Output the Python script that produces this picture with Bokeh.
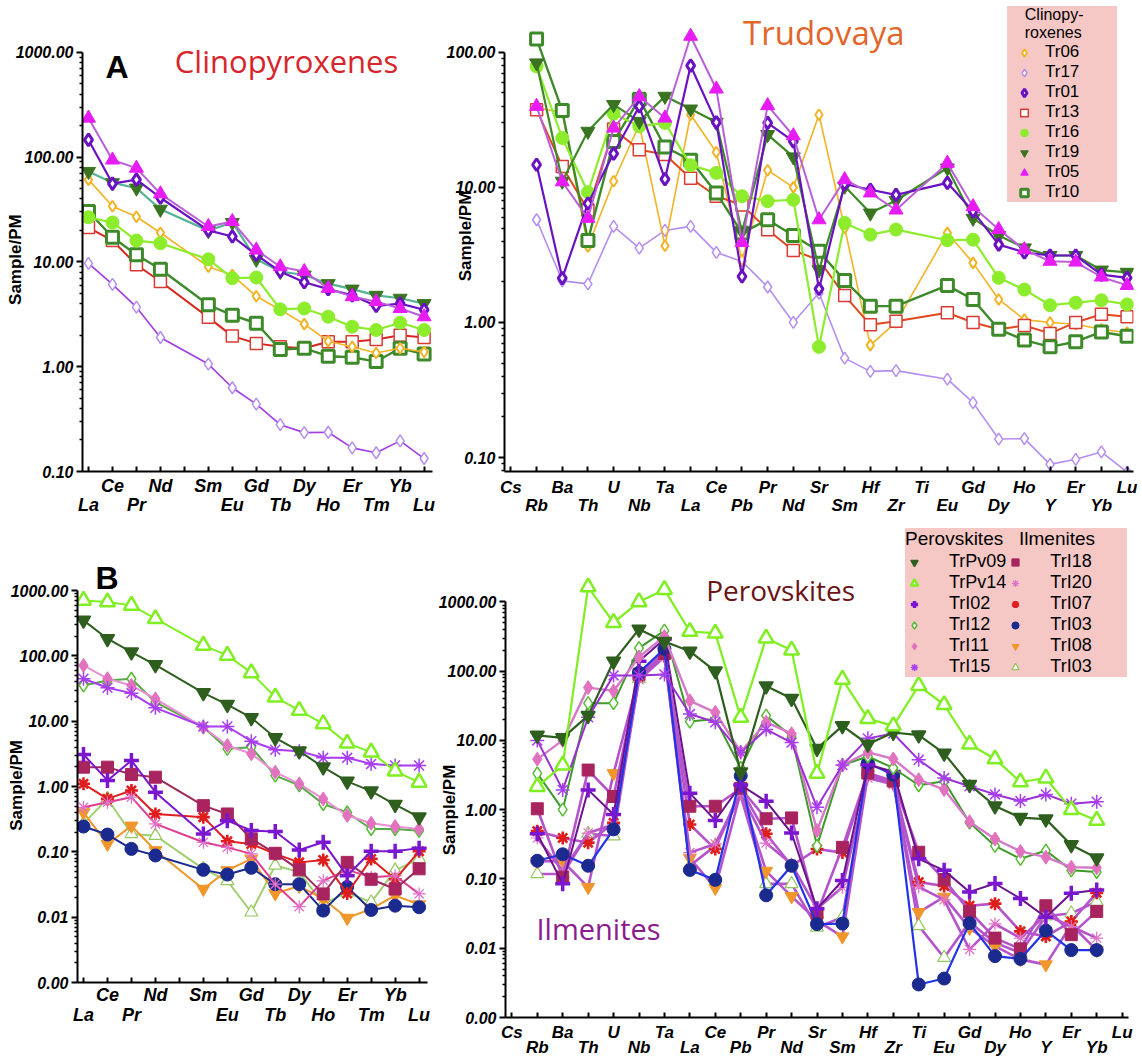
from bokeh.plotting import figure
from bokeh.models import FixedTicker, LinearAxis, CustomJSTickFormatter, Label, Legend, LegendItem
from bokeh.layouts import column, row
from bokeh.embed import file_html
from bokeh.resources import INLINE

# ---------------- element axes ----------------
REE_AXIS = ["La", "Ce", "Pr", "Nd", "Pm", "Sm", "Eu", "Gd", "Tb", "Dy", "Ho", "Er", "Tm", "Yb", "Lu"]
REE = ["La", "Ce", "Pr", "Nd", "Sm", "Eu", "Gd", "Tb", "Dy", "Ho", "Er", "Tm", "Yb", "Lu"]
SPIDER = ["Cs", "Rb", "Ba", "Th", "U", "Nb", "Ta", "La", "Ce", "Pb", "Pr", "Nd", "Sr", "Sm",
          "Hf", "Zr", "Ti", "Eu", "Gd", "Dy", "Ho", "Y", "Er", "Yb", "Lu"]
YTICKS_A = [0.1, 1, 10, 100, 1000]
YTICKS_B = [0.1, 1, 10, 100]
YTICKS_C = [0.001, 0.01, 0.1, 1, 10, 100, 1000]

# ---------------- panel A: clinopyroxene REE ----------------
tr06_ree = [61, 34, 27, 19, 9.0, 7.5, 4.7, 3.5, 2.55, 1.75, 1.55, 1.35, 1.5, 1.38]
tr17_ree = [9.7, 6.1, 3.7, 1.9, 1.06, 0.63, 0.44, 0.28, 0.235, 0.237, 0.168, 0.151, 0.196, 0.133]
tr01_ree = [146, 56, 61, 41, 20, 17.5, 11.7, 8.1, 6.4, 5.5, 4.8, 3.8, 4.0, 3.5]
tr13_ree = [21.3, 16, 9.4, 6.5, 2.96, 1.96, 1.67, 1.55, 1.5, 1.73, 1.73, 1.82, 2.0, 1.9]
tr16_ree = [26.7, 23.8, 16, 15.1, 10.6, 7.0, 7.1, 3.53, 3.6, 3.0, 2.41, 2.24, 2.63, 2.24]
tr19_ree = [73, 57, 50.6, 31.8, 19.9, 23.8, 10.6, 8.1, 7.5, 6.2, 5.5, 4.8, 4.5, 4.0]
tr05_ree = [236, 94, 78.5, 44.7, 21.8, 24.3, 13.0, 9.0, 8.1, 5.6, 4.67, 4.18, 3.6, 3.0]
tr10_ree = [30.3, 17.2, 11.7, 8.5, 3.9, 3.1, 2.6, 1.46, 1.5, 1.26, 1.23, 1.12, 1.5, 1.32]

# ---------------- panel A': clinopyroxene spider (Trudovaya) ----------------
tr06_sp = [None, 38.7, 36, 3.66, 11.1, 29.1, 3.7, 34.5, 18.2, 2.9, 13.4, 10.0, 34.5, 5.0, 0.68, 1.0, None, 4.6, 2.76, 1.48, 1.05, 1.0, 0.97, 0.89, 0.84]
tr17_sp = [None, 5.76, 2.03, 1.93, 5.14, 3.55, 4.8, 5.14, 3.3, 2.83, 1.83, 1.0, 1.65, 0.544, 0.434, 0.44, None, 0.38, 0.255, 0.137, 0.138, 0.089, 0.097, 0.11, 0.078]
tr01_sp = [None, 14.7, 2.13, 7.6, 17.8, 39.8, 11.5, 79.6, 30.3, 2.19, 30, 21.9, 1.77, 10.6, 9.6, 8.8, None, 10.8, 6.65, 3.77, 3.3, 3.13, 3.13, 2.26, 2.14]
tr13_sp = [None, 37.6, 14.3, 6.8, 27, 19, 17.5, 11.7, 8.6, 7.4, 4.86, 3.41, 2.9, 1.58, 0.96, 1.02, None, 1.18, 1.0, 0.89, 0.95, 0.83, 1.0, 1.15, 1.1]
tr16_sp = [None, 78.7, 23.2, 9.2, 35.1, 28.3, 30, 14.6, 12.8, 8.6, 7.9, 8.1, 0.66, 5.45, 4.47, 4.87, None, 4.06, 4.1, 2.14, 1.75, 1.34, 1.4, 1.46, 1.36]
tr19_sp = [None, 83.4, 11.1, 26, 41, 30.8, 47.2, 38, 30.3, 4.7, 24.6, 16.8, 2.45, 10.2, 6.45, 8.0, None, 13.9, 5.9, 4.4, 3.56, 3.13, 3.13, 2.44, 2.35]
tr05_sp = [None, 39.8, 11, 5.9, 27.5, 47, 32.6, 131.5, 53.5, 3.9, 40.3, 24.1, 5.76, 11.4, 9.1, 6.8, None, 15.1, 7.2, 4.87, 3.46, 2.84, 2.8, 2.17, 1.88]
tr10_sp = [None, 125.6, 37, 4.05, 21.9, 45, 19.9, 15.9, 9.1, 4.6, 5.76, 4.4, 3.36, 2.04, 1.32, 1.32, None, 1.88, 1.48, 0.89, 0.74, 0.66, 0.72, 0.85, 0.79]

# ---------------- panel B: perovskite / ilmenite REE ----------------
pv09_ree = [349, 183, 114, 73, 27.2, 18, 11.3, 5.57, 3.48, 1.98, 1.2, 0.85, 0.53, 0.34]
pv14_ree = [707, 667, 593, 371, 145, 102, 55, 23.4, 14.6, 9.1, 4.6, 3.36, 1.72, 1.16]
i02_ree = [3.1, 1.24, 2.5, 0.82, 0.188, 0.30, 0.212, 0.205, 0.107, 0.14, 0.043, 0.102, 0.102, 0.114]
i12_ree = [35.3, 42, 44.7, 19.6, 8.1, 3.78, 4.0, 1.47, 1.04, 0.54, 0.40, 0.224, 0.224, 0.21]
i11_ree = [71.5, 44.7, 35.3, 22, 8.1, 4.25, 3.17, 1.66, 1.1, 0.647, 0.36, 0.274, 0.244, 0.224]
i15_ree = [44.7, 32.5, 26.9, 16, 8.3, 8.3, 4.95, 3.65, 3.48, 2.75, 2.75, 2.22, 2.1, 2.1]
i18_ree = [1.98, 1.98, 1.53, 1.39, 0.51, 0.38, 0.158, 0.095, 0.053, 0.0227, 0.069, 0.038, 0.027, 0.055]
i20_ree = [0.48, 0.575, 0.687, 0.268, 0.14, 0.117, 0.093, 0.032, 0.0145, 0.036, 0.053, 0.041, 0.043, 0.0227]
i07_ree = [1.1, 0.647, 0.87, 0.38, 0.34, 0.145, 0.132, 0.093, 0.069, 0.075, 0.023, 0.078, 0.038, 0.102]
i03_ree = [0.244, 0.184, 0.111, 0.088, 0.053, 0.045, 0.057, 0.032, 0.032, 0.0126, 0.029, 0.0129, 0.015, 0.0142]
i08_ree = [0.40, 0.132, 0.25, 0.105, 0.027, 0.052, 0.078, 0.023, 0.030, 0.019, 0.0097, 0.0134, 0.0214, 0.0156]
i03b_ree = [0.27, 0.65, 0.188, 0.177, 0.055, 0.036, 0.0119, 0.062, 0.049, 0.016, 0.024, 0.0169, 0.052, 0.078]

# ---------------- panel B': perovskite / ilmenite spider ----------------
pv09_sp = [None, 11.8, 10.9, 22.8, 139, 403, 268, 193, 100, 3.5, 61, 40.3, 7.6, 16.2, 8.8, 13, 11.9, 6.5, 2.3, 1.13, 0.77, 0.73, 0.31, 0.2, None]
pv14_sp = [None, 2.15, 4.4, 1637, 501, 1000, 1500, 373, 353, 21.5, 299, 200, 3.34, 76, 20.6, 16.2, 61.7, 32.7, 8.8, 5.4, 2.51, 2.86, 1.0, 0.70, None]
i02_sp = [None, 0.45, 0.085, 1.93, 0.85, 139, 290, 1.73, 0.70, 2.27, 1.32, 0.46, 0.037, 0.095, 4.44, 3.56, 0.195, 0.133, 0.065, 0.086, 0.052, 0.028, 0.062, 0.069, None]
i12_sp = [None, 3.34, 1.0, 34.5, 34.5, 215, 385, 18.7, 20.4, 4.0, 22.8, 11.5, 0.30, 4.4, 5.85, 4.0, 2.25, 2.57, 0.65, 0.30, 0.195, 0.257, 0.133, 0.126, None]
i11_sp = [None, 5.36, 10, 57.8, 51.8, 160, 317, 37.3, 25.4, 6.8, 18.3, 12.5, 0.50, 4.4, 6.74, 5.4, 2.71, 1.95, 0.67, 0.377, 0.25, 0.206, 0.148, 0.145, None]
i15_sp = [None, 10, 1.93, 21.5, 86.7, 86.7, 89.6, 24, 18.3, 6.67, 14.4, 9.3, 1.08, 4.4, 10.7, 12.6, 5.24, 2.86, 2.18, 1.66, 1.33, 1.66, 1.22, 1.3, None]
i18_sp = [None, 1.03, 0.106, 3.73, 1.55, 90, 180, 1.12, 1.12, 2.04, 0.74, 0.76, 0.032, 0.286, 3.38, 2.6, 0.243, 0.098, 0.034, 0.014, 0.0098, 0.041, 0.0157, 0.034, None]
i20_sp = [None, 0.39, 0.13, 0.46, 0.61, 75, 160, 0.24, 0.32, 1.7, 0.33, 0.164, 0.037, 0.076, 2.86, 2.3, 0.077, 0.05, 0.0096, 0.0225, 0.014, 0.030, 0.0206, 0.014, None]
i07_sp = [None, 0.49, 0.39, 0.334, 0.645, 83, 165, 0.61, 0.27, 2.0, 0.45, 0.155, 0.27, 0.24, 3.2, 2.43, 0.09, 0.079, 0.041, 0.044, 0.0175, 0.0148, 0.0243, 0.063, None]
i03_sp = [None, 0.183, 0.227, 0.155, 0.52, 95, 210, 0.135, 0.097, 3.09, 0.058, 0.155, 0.0223, 0.0227, 4.7, 3.2, 0.003, 0.00365, 0.023, 0.0077, 0.007, 0.018, 0.0094, 0.0094, None]
i08_sp = [None, 0.18, 0.18, 0.076, 3.34, 85, 190, 0.2, 0.074, 1.8, 0.13, 0.056, 0.025, 0.0147, 3.2, 2.4, 0.033, 0.055, 0.0195, 0.0107, 0.0069, 0.0058, 0.0218, 0.0094, None]
i03b_sp = [None, 0.118, 0.118, 0.45, 0.416, 78, 175, 0.155, 0.3, 1.6, 0.085, 0.085, 0.02, 0.028, 3.3, 2.5, 0.021, 0.0073, 0.024, 0.012, 0.0086, 0.029, 0.032, 0.047, None]

CPX_NAMES = ["Tr06", "Tr17", "Tr01", "Tr13", "Tr16", "Tr19", "Tr05", "Tr10"]
PI_NAMES = ["TrPv09", "TrPv14", "TrI02", "TrI12", "TrI11", "TrI15",
            "TrI18", "TrI20", "TrI07", "TrI03", "TrI08", "TrI03"]

AXF = "Liberation Sans"
NBSP = "\u00a0"


def base_fig(width, height, bl, br, bt, bb, x_end, y_lo, y_hi, ticks, names, upper_even,
             xfs, s1, s2, y_standoff, label_pad):
    p = figure(width=width, height=height, x_range=(-0.25, x_end), y_range=(y_lo, y_hi),
               y_axis_type="log", output_backend="svg", toolbar_location=None,
               min_border_left=bl, min_border_right=br, min_border_top=bt, min_border_bottom=bb)
    if "frame_align" in p.properties():
        p.frame_align = False
    p.outline_line_color = None
    p.xgrid.visible = False
    p.ygrid.visible = False
    # y axis
    yax = p.yaxis[0]
    minors = []
    for t in ticks[:-1]:
        minors += [m * t for m in range(2, 10)]
    minors += [m * ticks[0] / 10 for m in range(2, 10)]
    yax.ticker = FixedTicker(ticks=ticks, minor_ticks=minors)
    yax.bounds = (y_lo, ticks[-1])
    yax.formatter = CustomJSTickFormatter(code="return tick.toFixed(2);")
    yax.axis_label = "Sample/PM" + NBSP * label_pad
    yax.axis_label_text_font = AXF
    yax.axis_label_text_font_style = "bold"
    yax.axis_label_text_font_size = "17px"
    yax.axis_label_text_color = "black"
    yax.axis_label_standoff = y_standoff
    yax.major_label_text_font = AXF
    yax.major_label_text_font_style = "bold italic"
    yax.major_label_text_font_size = "16px"
    yax.major_label_text_color = "black"
    yax.major_label_standoff = 3
    yax.axis_line_width = 2
    yax.major_tick_line_width = 2
    yax.minor_tick_line_width = 1.5
    yax.major_tick_out = 6
    yax.major_tick_in = 0
    yax.minor_tick_out = 3
    yax.minor_tick_in = 0
    # x axes (two staggered rows of labels)
    n = len(names)
    par = 0 if upper_even else 1
    up = [nm if i % 2 == par else "" for i, nm in enumerate(names)]
    low = [nm if (i % 2 != par and nm != "Pm") else "" for i, nm in enumerate(names)]
    xax = p.xaxis[0]
    xax.ticker = FixedTicker(ticks=list(range(n)))
    xax.formatter = CustomJSTickFormatter(args=dict(labels=up),
                                          code="const s = labels[Math.round(tick)]; return s ? s : '';")
    xax.axis_line_width = 2
    xax.major_tick_line_width = 2
    xax.major_tick_in = 5
    xax.major_tick_out = 0
    xax.minor_tick_line_color = None
    xax.major_label_standoff = s1
    xax.major_label_text_font = AXF
    xax.major_label_text_font_style = "bold italic"
    xax.major_label_text_font_size = xfs
    xax.major_label_text_color = "black"
    ax2 = LinearAxis(ticker=FixedTicker(ticks=[i for i in range(n) if i % 2 != par]),
                     formatter=CustomJSTickFormatter(args=dict(labels=low),
                                                     code="const s = labels[Math.round(tick)]; return s ? s : '';"),
                     axis_line_color=None, major_tick_line_color=None, minor_tick_line_color=None,
                     major_tick_in=0, major_tick_out=0, minor_tick_in=0, minor_tick_out=0,
                     major_label_standoff=s2, major_label_text_font=AXF,
                     major_label_text_font_style="bold italic", major_label_text_font_size=xfs,
                     major_label_text_color="black")
    p.add_layout(ax2, "below")
    return p


def draw(p, axis_names, keys, vals, lc, marker, mc, fill, size, lw=2.0, mlw=1.5):
    xs, ys = [], []
    for k, v in zip(keys, vals):
        if v is not None:
            xs.append(axis_names.index(k))
            ys.append(v)
    p.line(xs, ys, line_color=lc, line_width=lw)
    return p.scatter(xs, ys, marker=marker, size=size, line_color=mc, fill_color=fill, line_width=mlw)


def text(p, x, y, s, size, color, font="Open Sans", style="normal", align="left"):
    p.add_layout(Label(x=x, y=y, text=s, text_font=font, text_font_size=size, text_color=color,
                       text_font_style=style, text_align=align, text_baseline="alphabetic"))


# ---------- styles ----------
CPX_STYLE = {
    "Tr06": dict(lc="#f2b325", marker="diamond", mc="#f2b325", fill="white", size=11, lw=1.6, mlw=2),
    "Tr17": dict(lc="#b48ef0", marker="diamond", mc="#b48ef0", fill="white", size=12, lw=1.6, mlw=1.5),
    "Tr01": dict(lc="#6a12c2", marker="diamond", mc="#6a12c2", fill="white", size=12, lw=2.2, mlw=3),
    "Tr13": dict(lc="#e0481f", marker="square", mc="#d83a34", fill="white", size=12, lw=2.0, mlw=1.5),
    "Tr16": dict(lc="#8ded2d", marker="circle", mc="#8ded2d", fill="#8ded2d", size=13, lw=2.2, mlw=1),
    "Tr19": dict(lc="#3f8a28", marker="inverted_triangle", mc="#3a7420", fill="#3a7420", size=14, lw=2.2, mlw=1),
    "Tr05": dict(lc="#b95fd8", marker="triangle", mc="#e71cf4", fill="#e71cf4", size=14, lw=2.0, mlw=1),
    "Tr10": dict(lc="#3e8a2a", marker="square", mc="#3e8a2a", fill="white", size=12, lw=2.4, mlw=3),
}
A_LINE = {"Tr17": "#a03de6", "Tr19": "#57b395", "Tr13": "#d8261e"}

PI_STYLE = [
    dict(lc="#2f5f1f", marker="inverted_triangle", mc="#2f5f1f", fill="#2f5f1f", size=14, mlw=1.5),
    dict(lc="#80ef22", marker="triangle", mc="#80ef22", fill="white", size=15, mlw=2.5),
    dict(lc="#7b16d0", marker="cross", mc="#7b16d0", fill="#7b16d0", size=15, mlw=3.5),
    dict(lc="#58a84a", marker="diamond", mc="#55bb33", fill="white", size=13, mlw=1.5),
    dict(lc="#e890d2", marker="diamond", mc="#e272bf", fill="#e272bf", size=14, mlw=1),
    dict(lc="#a83ef0", marker="asterisk", mc="#a83ef0", fill=None, size=14, mlw=1.5),
    dict(lc="#9c2a5c", marker="square", mc="#a8245e", fill="#a8245e", size=12, mlw=1),
    dict(lc="#e23c90", marker="asterisk", mc="#e070c8", fill=None, size=13, mlw=1.2),
    dict(lc="#e02020", marker="asterisk", mc="#e01d1d", fill=None, size=13, mlw=2.6),
    dict(lc="#1b2a8f", marker="circle", mc="#1b2a8f", fill="#1b2a8f", size=13, mlw=1),
    dict(lc="#f0962a", marker="inverted_triangle", mc="#f0962a", fill="#f0962a", size=13, mlw=1),
    dict(lc="#a0d070", marker="triangle", mc="#96c860", fill="white", size=13, mlw=1.2),
]
D_LINE = ["#2f5f1f", "#80ef22", "#6c128c", "#3f9a2a", "#d47ac8", "#9b30d6",
          "#b553cc", "#b553cc", "#b553cc", "#2233e6", "#b553cc", "#b553cc"]
D_LW = [2.2, 2.2, 2.0, 2.0, 2.4, 2.0, 2.6, 2.6, 2.6, 2.2, 2.6, 2.6]

# ================= figure A (cpx REE) =================
pA = base_fig(444, 517, 82, 12, 0, 45, 14.35, 0.1, 3127, YTICKS_A, REE_AXIS, False, "18px", 4, -4, -12, 10)
cpx_ree = dict(zip(CPX_NAMES, [tr06_ree, tr17_ree, tr01_ree, tr13_ree, tr16_ree, tr19_ree, tr05_ree, tr10_ree]))
for nm in ["Tr17", "Tr13", "Tr10", "Tr06", "Tr16", "Tr19", "Tr01", "Tr05"]:
    st = dict(CPX_STYLE[nm])
    if nm in A_LINE:
        st["lc"] = A_LINE[nm]
    draw(pA, REE_AXIS, REE, cpx_ree[nm], **st)
text(pA, 0.71, 720, "A", "32px", "black", font=AXF, style="bold")
text(pA, 3.6, 821, "Clinopyroxenes", "31px", "#d6262b")

# ================= figure B (cpx spider) =================
pB = base_fig(698, 517, 60, 9, 0, 45, 24.25, 0.0788, 241.8, YTICKS_B, SPIDER, True, "17px", 6, -4, -31, 0)
cpx_sp = dict(zip(CPX_NAMES, [tr06_sp, tr17_sp, tr01_sp, tr13_sp, tr16_sp, tr19_sp, tr05_sp, tr10_sp]))
rB = {}
for nm in ["Tr17", "Tr06", "Tr13", "Tr10", "Tr16", "Tr19", "Tr01", "Tr05"]:
    rB[nm] = draw(pB, SPIDER, SPIDER, cpx_sp[nm], **CPX_STYLE[nm])
text(pB, 9.04, 139, "Trudovaya", "33px", "#e2662a")
legB = Legend(items=[LegendItem(label=nm, renderers=[rB[nm]]) for nm in CPX_NAMES],
              location=(503, 269), background_fill_color="#f5c8c6", background_fill_alpha=1.0,
              border_line_color=None, label_text_font=AXF, label_text_font_size="17px",
              label_text_color="black",
              label_height=19, glyph_height=19, glyph_width=34, label_standoff=4, label_width=72,
              spacing=0, padding=4, margin=0,
              title=NBSP * 4 + "Clinopy-\n" + NBSP * 4 + "roxenes", title_text_font=AXF,
              title_text_color="black",
              title_text_font_style="normal", title_text_font_size="16px", title_standoff=0)
pB.add_layout(legB)

# ================= figure C (pv/ilm REE) =================
pC = base_fig(436, 542, 77, 9, 0, 77, 14.35, 0.001, 13130, YTICKS_C, REE_AXIS, False, "18px", 2, -3, -18, 15)
pi_ree = [pv09_ree, pv14_ree, i02_ree, i12_ree, i11_ree, i15_ree, i18_ree, i20_ree, i07_ree, i03_ree, i08_ree, i03b_ree]
for k in [11, 10, 9, 8, 7, 6, 2, 3, 4, 5, 0, 1]:
    draw(pC, REE_AXIS, REE, pi_ree[k], **PI_STYLE[k])
text(pC, 0.5, 1581, "B", "32px", "black", font=AXF, style="bold")

# ================= figure D (pv/ilm spider) =================
pD = base_fig(706, 542, 64, 14, 0, 38, 24.25, 0.001, 16500, YTICKS_C, SPIDER, True, "17px", 5, -7, -23, 18)
pi_sp = [pv09_sp, pv14_sp, i02_sp, i12_sp, i11_sp, i15_sp, i18_sp, i20_sp, i07_sp, i03_sp, i08_sp, i03b_sp]
rD = {}
for k in [11, 10, 8, 7, 6, 9, 2, 3, 4, 5, 0, 1]:
    st = dict(PI_STYLE[k])
    st["lc"] = D_LINE[k]
    st["lw"] = D_LW[k]
    rD[k] = draw(pD, SPIDER, SPIDER, pi_sp[k], **st)
text(pD, 7.64, 1486, "Perovskites", "28px", "#6a1416")
text(pD, 0.97, 0.0193, "Ilmenites", "29px", "#8b1c8d")
legD = Legend(items=[LegendItem(label=PI_NAMES[k], renderers=[rD[k]]) for k in range(12)],
              location=(400, 340), ncols=2, background_fill_color="#f5c8c6", background_fill_alpha=1.0,
              border_line_color=None, label_text_font=AXF, label_text_font_size="18px",
              label_text_color="black",
              label_height=20, glyph_height=20, glyph_width=18, label_standoff=26, spacing=0,
              padding=4, margin=0, title="Perovskites   Ilmenites" + " " * 6, title_text_font=AXF,
              title_text_color="black",
              title_text_font_style="normal", title_text_font_size="19px", title_standoff=1)
pD.add_layout(legD)

layout = column(row(pA, pB), row(pC, pD))
open("out.html", "w").write(file_html(layout, INLINE))
